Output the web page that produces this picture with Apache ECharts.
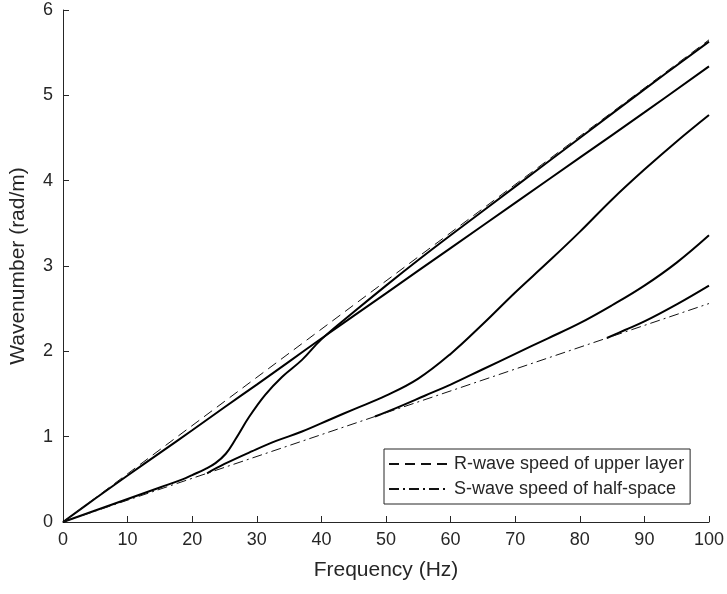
<!DOCTYPE html>
<html>
<head>
<meta charset="utf-8">
<script src="https://cdn.jsdelivr.net/npm/echarts@6/dist/echarts.min.js"></script>
<style>html,body{margin:0;padding:0;background:#fff}#c{width:727px;height:594px}</style>
</head>
<body>
<div id="c"></div>
<script>
// Mode curves: [frequency (Hz), wavenumber (rad/m)]
const mode1 = [[0,0],[5,0.275],[10,0.545],[15,0.81],[20,1.075],[25,1.345],[30,1.61],[35,1.88],[40,2.15],[50,2.68],[60,3.21],[70,3.74],[80,4.27],[90,4.80],[100,5.34]];
const mode2 = [[0,0],[5,0.135],[10,0.27],[15,0.405],[18.5,0.50],[20,0.55],[22,0.62],[23.6,0.69],[25.2,0.80],[26.7,0.97],[28.8,1.23],[31.3,1.49],[33.9,1.70],[37,1.90],[40,2.14],[45,2.46],[50,2.77],[55,3.07],[60,3.36],[70,3.93],[80,4.50],[90,5.07],[100,5.63]];
const mode3 = [[22.3,0.571],[25,0.68],[29.3,0.83],[33,0.95],[37,1.06],[41.6,1.21],[45,1.32],[50,1.48],[55,1.68],[60,1.97],[65,2.32],[70,2.69],[75,3.04],[80,3.40],[85,3.78],[90,4.13],[95,4.46],[100,4.77]];
const mode4 = [[48.3,1.236],[52,1.35],[56,1.48],[60,1.61],[65,1.79],[70,1.97],[75,2.15],[80,2.33],[85,2.54],[90,2.77],[95,3.04],[100,3.36]];
const mode5 = [[84.2,2.156],[87,2.25],[90,2.35],[95,2.55],[100,2.77]];
const rWave = [[0,0],[100,5.65]];
const sWave = [[0,0],[100,2.56]];
const legendNames = ['R-wave speed of upper layer','S-wave speed of half-space'];
const xTitle = 'Frequency (Hz)';
const yTitle = 'Wavenumber (rad/m)';

const txt = '#262626';
const chart = echarts.init(document.getElementById('c'));
function solid(d){return {type:'line',data:d,showSymbol:false,symbol:'none',smooth:0.4,
  lineStyle:{color:'#000',width:2},itemStyle:{color:'#000'},silent:true};}
chart.setOption({
  animation:false,
  grid:{left:60,right:18,top:10,bottom:72},
  xAxis:{type:'value',min:0,max:100,interval:10,name:xTitle,nameLocation:'middle',nameGap:38,
    nameTextStyle:{fontSize:21,color:txt,fontFamily:'Liberation Sans'},
    axisLine:{lineStyle:{color:txt,width:1}},axisTick:{inside:true,length:6,lineStyle:{color:txt}},
    axisLabel:{fontSize:18,color:txt,margin:9,fontFamily:'Liberation Sans'},splitLine:{show:false}},
  yAxis:{type:'value',min:0,max:6,interval:1,name:yTitle,nameLocation:'middle',nameGap:34,
    nameTextStyle:{fontSize:21,color:txt,fontFamily:'Liberation Sans'},
    axisLine:{show:true,lineStyle:{color:txt,width:1}},axisTick:{show:true,inside:true,length:6,lineStyle:{color:txt}},
    axisLabel:{fontSize:18,color:txt,margin:10,fontFamily:'Liberation Sans'},splitLine:{show:false}},
  legend:{data:legendNames,orient:'vertical',left:384,top:449,padding:[4,6,4,4],itemGap:3,itemWidth:60,itemHeight:14,
    borderColor:txt,borderWidth:1,backgroundColor:'#fff',itemStyle:{opacity:0},
    textStyle:{fontSize:18,color:txt,fontFamily:'Liberation Sans',lineHeight:22}},
  series:[
    solid(mode1),solid(mode2),solid(mode3),solid(mode4),solid(mode5),
    {name:legendNames[0],type:'line',data:rWave,showSymbol:false,symbol:'none',itemStyle:{color:'#111'},
      lineStyle:{color:'#111',width:1,type:[10,6]},silent:true},
    {name:legendNames[1],type:'line',data:sWave,showSymbol:false,symbol:'none',itemStyle:{color:'#111'},
      lineStyle:{color:'#111',width:1,type:[10,4,2,4]},silent:true}
  ]
});
</script>
</body>
</html>
